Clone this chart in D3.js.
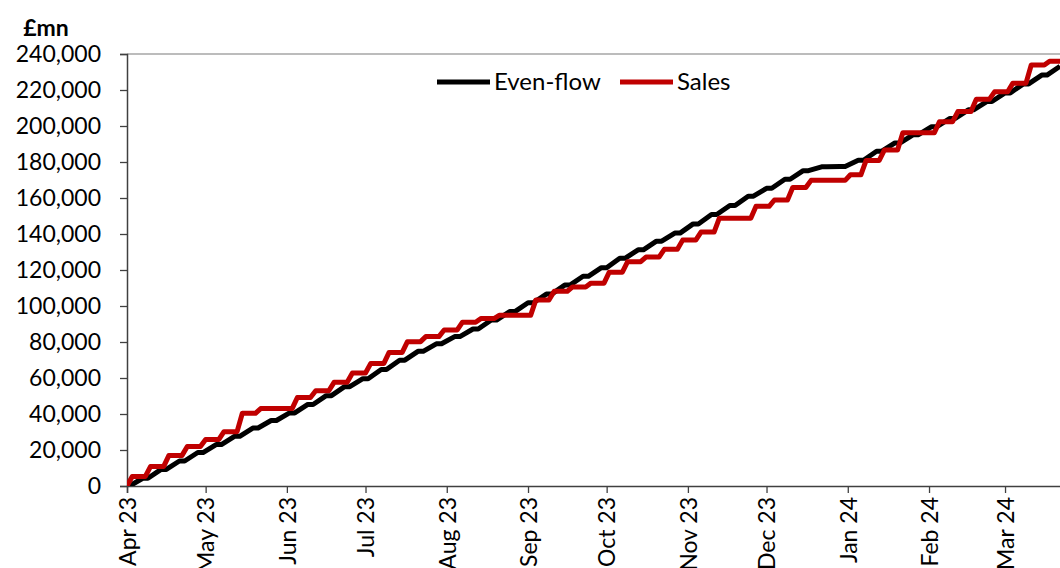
<!DOCTYPE html>
<html>
<head>
<meta charset="utf-8">
<script src="https://cdn.jsdelivr.net/npm/d3@7"></script>
<style>
  html, body { margin: 0; padding: 0; background: #fff; }
  svg { display: block; font-family: Lato, "Open Sans", sans-serif; }
</style>
</head>
<body>
<svg id="chart" width="1060" height="568"></svg>
<script>
// Cumulative even-flow profile: running total at the end of each working week (Fridays), £mn
const evenFlowWeeks = [
  "2023-04-07","2023-04-14","2023-04-21","2023-04-28","2023-05-05","2023-05-12","2023-05-19","2023-05-26",
  "2023-06-02","2023-06-09","2023-06-16","2023-06-23","2023-06-30","2023-07-07","2023-07-14","2023-07-21",
  "2023-07-28","2023-08-04","2023-08-11","2023-08-18","2023-08-25","2023-09-01","2023-09-08","2023-09-15",
  "2023-09-22","2023-09-29","2023-10-06","2023-10-13","2023-10-20","2023-10-27","2023-11-03","2023-11-10",
  "2023-11-17","2023-11-24","2023-12-01","2023-12-08","2023-12-15","2023-12-22","2023-12-29","2024-01-05",
  "2024-01-12","2024-01-19","2024-01-26","2024-02-02","2024-02-09","2024-02-16","2024-02-23","2024-03-01",
  "2024-03-08","2024-03-15","2024-03-22"
];
const evenFlowTotals = [
  4300, 9200, 13900, 18600, 23000, 27600, 32200, 36400,
  40600, 45300, 50200, 55200, 59600, 64700, 69900, 74800,
  79000, 83000, 87200, 92200, 96900, 101800, 106600, 111600,
  116500, 121300, 126500, 131200, 136000, 140500, 145600, 150800,
  155800, 161000, 165400, 170400, 175200, 177300, 177500, 181000,
  186000, 190600, 195200, 199600, 204200, 209000, 213600, 218400,
  223400, 228300, 233200
];

// Cumulative sales: running total after each weekly settlement date, £mn
const salesDates = [
  "2023-04-03","2023-04-10","2023-04-17","2023-04-24","2023-05-01","2023-05-08","2023-05-15","2023-05-22",
  "2023-06-05","2023-06-12","2023-06-19","2023-06-26","2023-07-03","2023-07-10","2023-07-17","2023-07-24",
  "2023-07-31","2023-08-07","2023-08-14","2023-08-21","2023-09-04","2023-09-11","2023-09-18","2023-09-25",
  "2023-10-02","2023-10-09","2023-10-16","2023-10-23","2023-10-30","2023-11-06","2023-11-13","2023-11-27",
  "2023-12-04","2023-12-11","2023-12-18","2024-01-02","2024-01-08","2024-01-15","2024-01-22","2024-02-05",
  "2024-02-12","2024-02-19","2024-02-26","2024-03-04","2024-03-11","2024-03-18"
];
const salesTotals = [
  5300, 10900, 17000, 21900, 25800, 30200, 40400, 43000,
  49200, 52900, 57600, 62800, 68100, 74200, 80200, 83000,
  86700, 91000, 93000, 94800, 103400, 108200, 110600, 112700,
  118800, 124600, 127200, 131500, 136600, 141100, 148800, 155400,
  158900, 165800, 169800, 172900, 180900, 186700, 196200, 202400,
  208000, 214800, 219000, 223800, 233900, 236000
];

// Axis settings
const periodStart = "2023-04-01";
const periodEnd = "2024-03-31";
const monthTicks = [
  "2023-04-01","2023-05-01","2023-06-01","2023-07-01","2023-08-01","2023-09-01",
  "2023-10-01","2023-11-01","2023-12-01","2024-01-01","2024-02-01","2024-03-01"
];
const yTicks = [0, 20000, 40000, 60000, 80000, 100000, 120000, 140000, 160000, 180000, 200000, 220000, 240000];
const seriesNames = ["Even-flow", "Sales"];
const unitLabel = "£mn";

(function draw() {
  const parse = d3.utcParse("%Y-%m-%d");
  const DAY = 864e5;

  const svg = d3.select("#chart");
  const plotLeft = 127, plotTop = 54, plotBottom = 486;
  const pxPerDay = 2.621;
  const start = parse(periodStart), end = parse(periodEnd);
  const plotRight = plotLeft + (end - start) / DAY * pxPerDay;

  const x = d3.scaleUtc().domain([start, end]).range([plotLeft, plotRight]);
  const y = d3.scaleLinear().domain([0, 240000]).range([plotBottom, plotTop]);

  // Plot area clip
  svg.append("defs").append("clipPath").attr("id", "plot")
    .append("rect").attr("x", plotLeft).attr("y", plotTop - 4)
    .attr("width", plotRight - plotLeft).attr("height", plotBottom - plotTop + 4);

  // Top border of plot area
  svg.append("line")
    .attr("x1", plotLeft).attr("x2", plotRight).attr("y1", plotTop).attr("y2", plotTop)
    .attr("stroke", "#a6a6a6").attr("stroke-width", 1.5);

  // Y axis
  const yAxis = svg.append("g")
    .attr("transform", `translate(${plotLeft},0)`)
    .call(d3.axisLeft(y).tickValues(yTicks).tickFormat(d3.format(","))
      .tickSizeOuter(0).tickSize(7).tickPadding(19));
  yAxis.select(".domain").attr("stroke", "#404040").attr("stroke-width", 1.5);
  yAxis.selectAll(".tick line").attr("stroke", "#404040").attr("stroke-width", 1.3);
  yAxis.selectAll(".tick text").attr("font-size", 23).attr("fill", "#000")
    .attr("font-family", "Lato, 'Open Sans', sans-serif");

  // X axis
  const xAxis = svg.append("g")
    .attr("transform", `translate(0,${plotBottom})`)
    .call(d3.axisBottom(x).tickValues(monthTicks.map(parse)).tickFormat(d3.utcFormat("%b %y"))
      .tickSizeOuter(0).tickSize(7));
  xAxis.select(".domain").attr("stroke", "#404040").attr("stroke-width", 1.5);
  xAxis.selectAll(".tick line").attr("stroke", "#404040").attr("stroke-width", 1.3);
  xAxis.selectAll(".tick text")
    .attr("font-size", 23).attr("fill", "#000")
    .attr("font-family", "Lato, 'Open Sans', sans-serif")
    .attr("text-anchor", "end")
    .attr("transform", "rotate(-90)")
    .attr("x", -11).attr("y", 0).attr("dy", "0.36em");

  // Unit label
  svg.append("text").attr("x", 46).attr("y", 36)
    .attr("text-anchor", "middle").attr("font-size", 23).attr("font-weight", "bold")
    .text(unitLabel);

  // Even-flow path: each week's total accrues over the working days up to Friday
  const evenPoints = [];
  let prev = 0;
  evenFlowWeeks.forEach((s, i) => {
    const fri = parse(s);
    evenPoints.push([new Date(+fri - 5 * DAY), prev]);
    evenPoints.push([fri, evenFlowTotals[i]]);
    prev = evenFlowTotals[i];
  });

  // Sales path: stepped running total, rising into each settlement date
  const salesPoints = [];
  prev = 0;
  salesDates.forEach((s, i) => {
    const d = parse(s);
    salesPoints.push([new Date(+d - 2 * DAY), prev]);
    salesPoints.push([d, salesTotals[i]]);
    prev = salesTotals[i];
  });
  salesPoints.push([end, prev]);

  const line = d3.line().x(d => x(d[0])).y(d => y(d[1]));

  const plot = svg.append("g").attr("clip-path", "url(#plot)");
  plot.append("path").attr("d", line(evenPoints))
    .attr("fill", "none").attr("stroke", "#000").attr("stroke-width", 5)
    .attr("stroke-linejoin", "round");
  plot.append("path").attr("d", line(salesPoints))
    .attr("fill", "none").attr("stroke", "#c00000").attr("stroke-width", 5)
    .attr("stroke-linejoin", "round");

  // Legend
  const legend = svg.append("g").attr("font-size", 24);
  const legendItems = [
    { name: seriesNames[0], color: "#000", x0: 437 },
    { name: seriesNames[1], color: "#c00000", x0: 620 }
  ];
  legendItems.forEach(it => {
    legend.append("line").attr("x1", it.x0).attr("x2", it.x0 + 53).attr("y1", 82).attr("y2", 82)
      .attr("stroke", it.color).attr("stroke-width", 5);
    legend.append("text").attr("x", it.x0 + 57).attr("y", 82).attr("dy", "0.35em").text(it.name);
  });
})();
</script>
</body>
</html>
